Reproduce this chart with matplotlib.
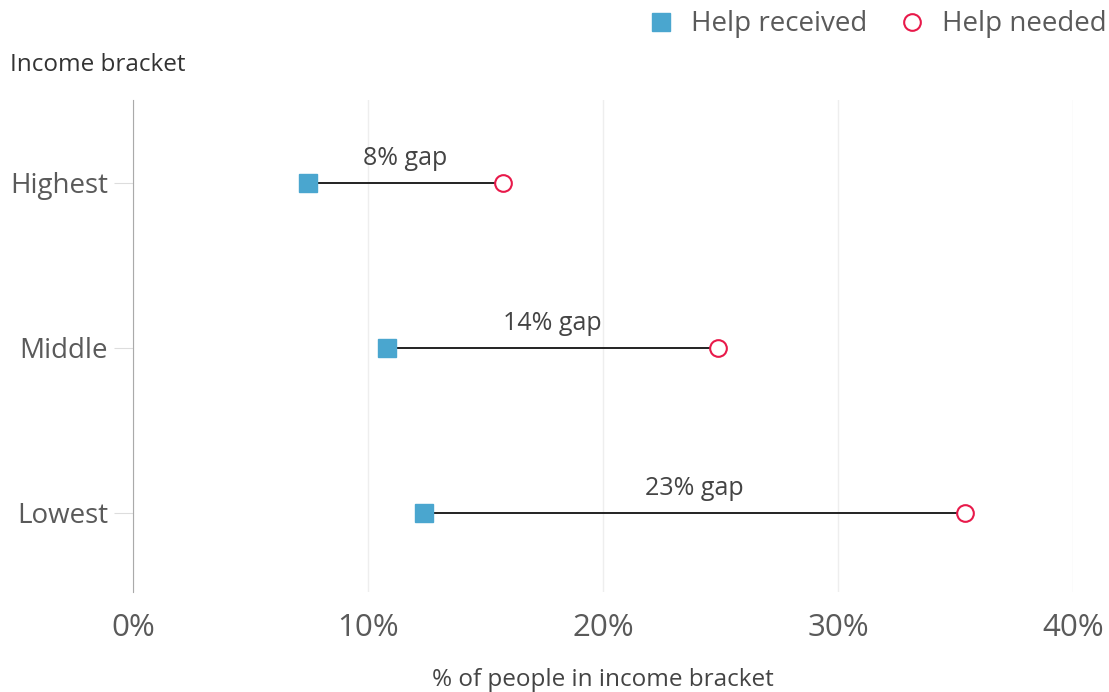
import matplotlib.pyplot as plt
from matplotlib.lines import Line2D

plt.rcParams['font.family'] = ['Open Sans', 'DejaVu Sans']

brackets = ["Lowest", "Middle", "Highest"]
help_received = [12.4, 10.8, 7.45]
help_needed = [35.4, 24.9, 15.75]
gap_labels = ["23% gap", "14% gap", "8% gap"]
x_ticks = [0, 10, 20, 30, 40]
x_tick_labels = ["0%", "10%", "20%", "30%", "40%"]

BLUE = "#4aa6cf"
RED = "#e8194a"
TEXT = "#5a5a5a"

fig = plt.figure(figsize=(11.09, 6.92), dpi=100)
ax = fig.add_axes([133 / 1109, 1 - 592 / 692, (1073 - 133) / 1109, (592 - 100) / 692])

ypos = list(range(len(brackets)))
for y, lo, hi, lab in zip(ypos, help_received, help_needed, gap_labels):
    ax.plot([lo, hi], [y, y], color="#222222", lw=1.4, zorder=2)
    ax.text((lo + hi) / 2, y + 0.07, lab, ha="center", va="bottom", fontsize=18, color="#444444")

ax.plot(help_received, ypos, ls="none", marker="s", ms=13, color=BLUE, zorder=3)
ax.plot(help_needed, ypos, ls="none", marker="o", ms=12, mfc="white", mec=RED, mew=1.5, zorder=3)

for s in ["top", "right", "bottom"]:
    ax.spines[s].set_visible(False)
ax.spines["left"].set_color("#aaaaaa")

ax.set_xlim(0, 40)
ax.set_ylim(-0.48, 2.5)
ax.set_xticks(x_ticks)
ax.set_xticklabels(x_tick_labels, fontsize=22.5, color=TEXT)
ax.set_yticks(ypos)
ax.set_yticklabels(brackets, fontsize=20, color=TEXT)
ax.tick_params(axis="x", length=0, pad=15)
ax.tick_params(axis="y", length=14, color="#dddddd", pad=4)
ax.grid(axis="x", color="#eeeeee", lw=1)
ax.set_axisbelow(True)

ax.set_xlabel("% of people in income bracket", fontsize=17.5, color="#444444", labelpad=18)
fig.text(10 / 1109, 1 - 65 / 692, "Income bracket", fontsize=17.5, color="#333333", va="center")

handles = [
    Line2D([], [], ls="none", marker="s", ms=13, color=BLUE),
    Line2D([], [], ls="none", marker="o", ms=12, mfc="white", mec=RED, mew=1.5),
]
fig.legend(handles, ["Help received", "Help needed"], loc="upper right",
           bbox_to_anchor=(1.02, 1.021), ncol=2, frameon=False, fontsize=20,
           labelcolor=TEXT, handlelength=1.0, handletextpad=0.57, columnspacing=1.12)

fig.savefig("out.png", dpi=100)
